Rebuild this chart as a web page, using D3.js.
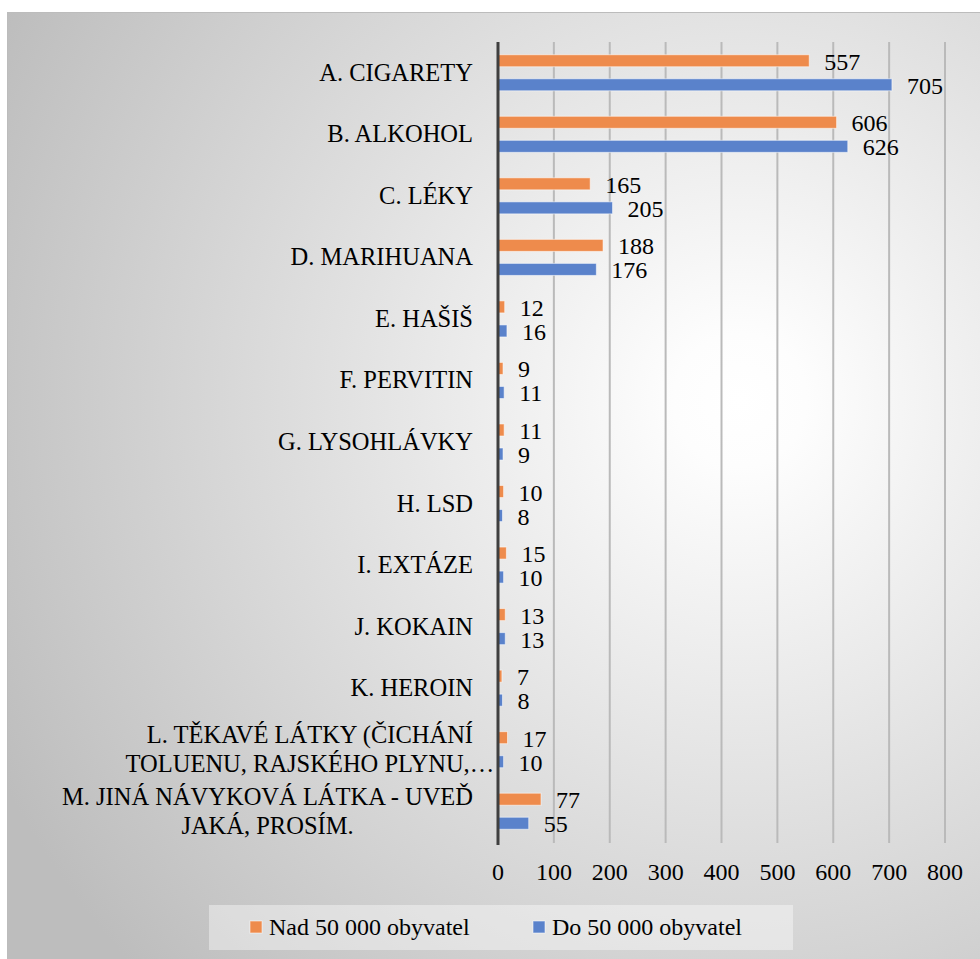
<!DOCTYPE html>
<html><head><meta charset="utf-8"><script src="https://cdn.jsdelivr.net/npm/d3@7"></script></head>
<body style="margin:0">
<svg id="chart" width="980" height="959" style="display:block"></svg>
<script>
// Categories (line breaks mark where the long labels wrap)
const categories = [
  "A. CIGARETY",
  "B. ALKOHOL",
  "C. LÉKY",
  "D. MARIHUANA",
  "E. HAŠIŠ",
  "F. PERVITIN",
  "G. LYSOHLÁVKY",
  "H. LSD",
  "I. EXTÁZE",
  "J. KOKAIN",
  "K. HEROIN",
  "L. TĚKAVÉ LÁTKY (ČICHÁNÍ\nTOLUENU, RAJSKÉHO PLYNU,…",
  "M. JINÁ NÁVYKOVÁ LÁTKA - UVEĎ\nJAKÁ, PROSÍM."
];

const seriesNames = ["Nad 50 000 obyvatel", "Do 50 000 obyvatel"];
const nadValues = [557, 606, 165, 188, 12, 9, 11, 10, 15, 13, 7, 17, 77];
const doValues  = [705, 626, 205, 176, 16, 11, 9, 8, 10, 13, 8, 10, 55];
const xTicks = [0, 100, 200, 300, 400, 500, 600, 700, 800];

const colors = ["#ee8b4c", "#5a82cb"];
const seriesKeys = ["nad", "do"];

const rows = categories.map((c, i) => ({ cat: c, nad: nadValues[i], do: doValues[i] }));

const svg = d3.select("#chart");
const W = 980, H = 959;

// serif face used by every label
function serif(sel, size) {
  return sel.attr("font-size", size)
    .style("font-family", `"Liberation Serif"`)
    .attr("fill", "#000");
}

// Chart area background: soft radial gradient
const defs = svg.append("defs");
const grad = defs.append("radialGradient")
  .attr("id", "bg")
  .attr("gradientUnits", "userSpaceOnUse")
  .attr("cx", 740).attr("cy", 400).attr("r", 830);
grad.append("stop").attr("offset", "0").attr("stop-color", "#ffffff");
grad.append("stop").attr("offset", "0.08").attr("stop-color", "#fdfdfd");
grad.append("stop").attr("offset", "1").attr("stop-color", "#bdbdbd");

svg.append("rect")
  .attr("x", 7.5).attr("y", 12.5)
  .attr("width", W).attr("height", H)
  .attr("fill", "url(#bg)")
  .attr("stroke", "#bcbcbc").attr("stroke-width", 1);

// Scales
const x = d3.scaleLinear().domain([0, 800]).range([498, 945]);
const y = d3.scaleBand().domain(categories).range([42, 842]).padding(0);
const ySub = d3.scaleBand().domain(seriesKeys).range([0, y.bandwidth()])
  .paddingInner(0.5).paddingOuter(0.53);

// Vertical gridlines
svg.append("g")
  .selectAll("line")
  .data(xTicks.filter(t => t > 0))
  .join("line")
  .attr("x1", d => x(d)).attr("x2", d => x(d))
  .attr("y1", 42).attr("y2", 843)
  .attr("stroke", "#bababa").attr("stroke-width", 2);

// Bars and value labels
const groups = svg.append("g")
  .selectAll("g")
  .data(rows)
  .join("g")
  .attr("transform", d => `translate(0,${y(d.cat)})`);

seriesKeys.forEach((k, si) => {
  groups.append("rect")
    .attr("x", x(0))
    .attr("y", ySub(k))
    .attr("width", d => x(d[k]) - x(0))
    .attr("height", ySub.bandwidth())
    .attr("fill", colors[si])
    .attr("stroke", "rgba(255,255,255,0.55)")
    .attr("stroke-width", 1);

  serif(groups.append("text"), 24)
    .attr("x", d => x(d[k]) + 15)
    .attr("y", ySub(k) + ySub.bandwidth() / 2 + 9)
    .text(d => d[k]);
});

// Category axis line
svg.append("line")
  .attr("x1", x(0)).attr("x2", x(0))
  .attr("y1", 42).attr("y2", 845)
  .attr("stroke", "#3f3f3f").attr("stroke-width", 3);

// Category labels; wrapped labels are centred under their first line
const labelRight = 473;
const lineH = 29;
const labelG = svg.append("g");
const wrapped = [];
rows.forEach(d => {
  const lines = d.cat.split("\n");
  const cy = y(d.cat) + y.bandwidth() / 2 + 8;
  const t = serif(labelG.append("text"), 24.5);
  if (lines.length === 1) {
    t.attr("text-anchor", "end").attr("x", labelRight).attr("y", cy).text(lines[0]);
  } else {
    t.attr("text-anchor", "middle");
    const spans = lines.map((ln, i) => t.append("tspan")
      .attr("x", labelRight - 180)
      .attr("y", cy + (i - (lines.length - 1) / 2) * lineH)
      .text(ln));
    wrapped.push(spans);
  }
});

// Value axis tick labels
serif(svg.append("g")
  .selectAll("text")
  .data(xTicks)
  .join("text"), 24)
  .attr("x", d => x(d))
  .attr("y", 880)
  .attr("text-anchor", "middle")
  .text(d => d);

// Legend
const legend = svg.append("g");
legend.append("rect")
  .attr("x", 209).attr("y", 905)
  .attr("width", 584).attr("height", 45)
  .attr("fill", "rgba(255,255,255,0.4)");
const legendItems = [
  { name: seriesNames[0], color: colors[0], x: 250 },
  { name: seriesNames[1], color: colors[1], x: 533 }
];
legendItems.forEach(it => {
  legend.append("rect")
    .attr("x", it.x).attr("y", 921)
    .attr("width", 12).attr("height", 12)
    .attr("fill", it.color)
    .attr("stroke", "rgba(255,255,255,0.55)");
  serif(legend.append("text"), 24)
    .attr("x", it.x + 19).attr("y", 935)
    .text(it.name);
});

// Once the face is ready, centre wrapped lines on the right-aligned first line
document.fonts.ready.then(() => {
  wrapped.forEach(spans => {
    const firstW = spans[0].node().getComputedTextLength();
    const centre = labelRight - firstW / 2;
    spans.forEach(s => s.attr("x", centre));
  });
});
</script>
</body>
</html>
